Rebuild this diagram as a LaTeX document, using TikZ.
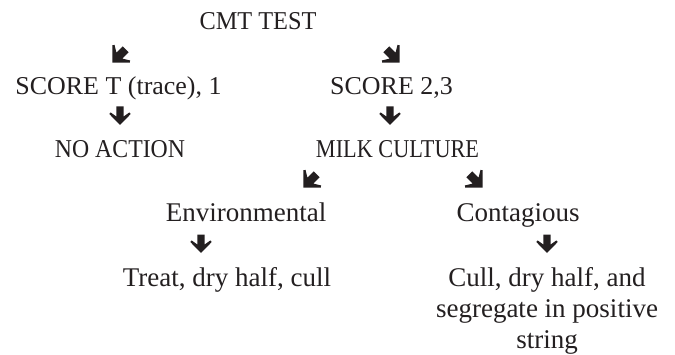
\documentclass[tikz,border=0pt]{standalone}
\usepackage{fontspec}
\setmainfont{Liberation Serif}
\usepackage{graphicx}
\definecolor{ink}{RGB}{35,31,32}
\tikzset{
  upper/.style={inner sep=0pt, anchor=base, text=ink, font=\fontsize{25.7}{30}\selectfont},
  lower/.style={inner sep=0pt, anchor=base, text=ink, font=\fontsize{27}{31}\selectfont},
  bigarrow/.pic={\fill[ink] (-3.7,9.5) -- (3.7,9.5) -- (3.7,-0.5) -- (9.4,3.6) -- (10.7,2) -- (0,-9)
      -- (-10.7,2) -- (-9.4,3.6) -- (-3.7,-0.5) -- cycle;},
  diagarrow/.pic={\fill[ink, rotate=#1] (-4.2,9.4) -- (4.2,9.4) -- (4.2,0.55) -- (11,4.7) -- (12.3,2.9) -- (0,-9.4)
      -- (-12.3,2.9) -- (-11,4.7) -- (-4.2,0.55) -- cycle;}
}
\begin{document}
\begin{tikzpicture}[x=1pt,y=1pt]
\useasboundingbox (0,0) rectangle (675,354);
% text nodes
\node[upper] (cmt)   at (258,324)   {\scalebox{0.947}[1]{CMT TEST}};
\node[upper] (s1)    at (118.5,259) {\scalebox{1.01}[1]{SCORE T (trace), 1}};
\node[upper] (s23)   at (391.5,259) {\scalebox{1.01}[1]{SCORE 2,3}};
\node[upper] (noact) at (120,196)   {\scalebox{0.925}[1]{NO ACTION}};
\node[upper] (milk)  at (397.5,196) {\scalebox{0.866}[1]{MILK CULTURE}};
\node[lower] (env)   at (246,132)   {Environmental};
\node[lower] (cont)  at (518,132)   {Contagious};
\node[lower] (treat) at (227,68)    {Treat, dry half, cull};
\node[lower, anchor=north, align=center] (cull) at (547,86.5)
  {Cull, dry half, and\\segregate in positive\\string};
% block arrows
\pic (a1) at (119,298) {diagarrow=-45};
\pic (a2) at (393,298) {diagarrow=45};
\pic (a3) at (120,238) {bigarrow};
\pic (a4) at (390,238) {bigarrow};
\pic (a5) at (310,173) {diagarrow=-45};
\pic (a6) at (476,173) {diagarrow=45};
\pic (a7) at (201,110) {bigarrow};
\pic (a8) at (547,110) {bigarrow};
\end{tikzpicture}
\end{document}
